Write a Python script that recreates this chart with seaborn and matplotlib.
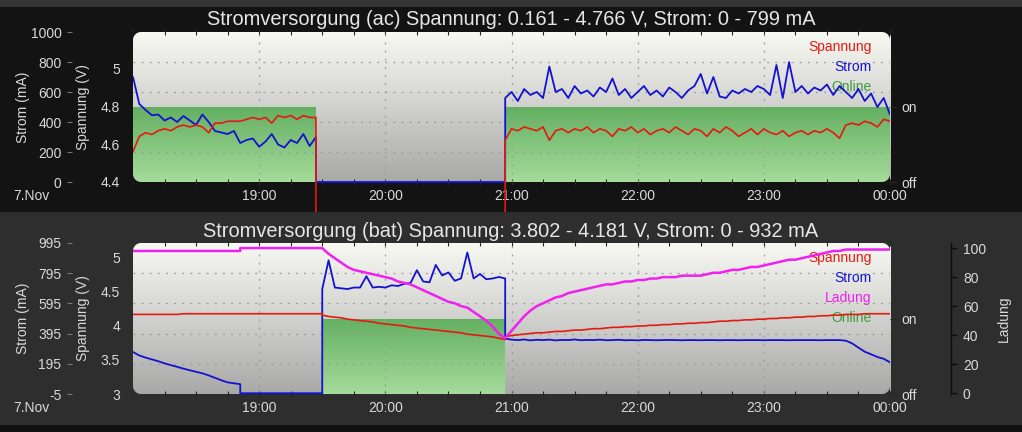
"""Stromversorgung: two stacked panels (ac / bat) with voltage, current, charge and online state."""
import numpy as np
import matplotlib
matplotlib.use("Agg")
import matplotlib.pyplot as plt
import seaborn as sns
from matplotlib.path import Path
from matplotlib.patches import PathPatch, Rectangle
from matplotlib.transforms import Bbox, TransformedBbox
from matplotlib.ticker import MultipleLocator

# ---------------------------------------------------------------- data
# time axis: minutes after 18:00 (7.Nov), 360 = 00:00
ac_min = np.r_[np.arange(0, 88, 3), 87, 177, np.arange(177, 361, 3)]
ac_spannung = [
    4.56, 4.64, 4.66, 4.65, 4.67, 4.68, 4.67, 4.69, 4.70, 4.69,
    4.70, 4.69, 4.66, 4.71, 4.71, 4.72, 4.72, 4.72, 4.73, 4.74,
    4.73, 4.74, 4.71, 4.75, 4.74, 4.75, 4.73, 4.75, 4.74, 4.74,
    0.161, 0.161,
    4.62, 4.68, 4.67, 4.69, 4.68, 4.67, 4.69, 4.62, 4.67, 4.68,
    4.66, 4.68, 4.67, 4.69, 4.66, 4.68, 4.67, 4.64, 4.68, 4.67,
    4.69, 4.66, 4.68, 4.65, 4.67, 4.68, 4.66, 4.69, 4.67, 4.65,
    4.68, 4.67, 4.64, 4.68, 4.66, 4.69, 4.67, 4.64, 4.66, 4.68,
    4.65, 4.68, 4.66, 4.65, 4.67, 4.64, 4.66, 4.67, 4.65, 4.67,
    4.66, 4.68, 4.66, 4.63, 4.70, 4.71, 4.70, 4.72, 4.71, 4.69,
    4.73, 4.72,
]
ac_strom = [
    700, 520, 480, 445, 450, 410, 430, 400, 440, 410,
    380, 450, 400, 340, 330, 320, 340, 260, 280, 290,
    235, 270, 320, 250, 230, 280, 260, 320, 240, 300,
    0, 0,
    560, 600, 540, 620, 580, 600, 560, 770, 600, 620,
    560, 640, 590, 610, 570, 630, 600, 690, 580, 620,
    560, 600, 640, 580, 610, 570, 630, 600, 560, 610,
    640, 720, 590, 700, 570, 560, 610, 590, 620, 600,
    640, 620, 580, 780, 560, 799, 600, 640, 590, 630,
    610, 650, 580, 640, 600, 560, 620, 540, 590, 500,
    560, 450,
]
ac_online_min = [0, 87, 87, 177, 177, 360]
ac_online = [1, 1, 0, 0, 1, 1]

bat_min = np.r_[np.arange(0, 52, 3), 51, 90, np.arange(90, 178, 3), np.arange(177, 361, 3)]
bat_spannung = [
    4.17, 4.17, 4.17, 4.17, 4.17, 4.17, 4.17, 4.17, 4.18, 4.18,
    4.18, 4.18, 4.18, 4.18, 4.18, 4.18, 4.18, 4.18,
    4.18, 4.18,
    4.16, 4.14, 4.13, 4.12, 4.10, 4.09, 4.08, 4.07, 4.06, 4.04,
    4.03, 4.02, 4.01, 4.00, 3.98, 3.97, 3.96, 3.95, 3.94, 3.93,
    3.92, 3.91, 3.90, 3.88, 3.87, 3.86, 3.85, 3.84, 3.82, 3.80,
    3.84, 3.86, 3.87, 3.88, 3.89, 3.90, 3.90, 3.91, 3.92, 3.92,
    3.93, 3.94, 3.94, 3.95, 3.96, 3.96, 3.97, 3.98, 3.98, 3.99,
    3.99, 4.00, 4.00, 4.01, 4.01, 4.02, 4.02, 4.03, 4.03, 4.04,
    4.04, 4.05, 4.05, 4.06, 4.07, 4.07, 4.08, 4.08, 4.09, 4.09,
    4.10, 4.10, 4.11, 4.11, 4.12, 4.12, 4.13, 4.13, 4.14, 4.14,
    4.15, 4.15, 4.16, 4.16, 4.17, 4.17, 4.17, 4.18, 4.18, 4.18,
    4.18, 4.18,
]
bat_strom = [
    273, 250, 236, 224, 212, 198, 186, 175, 163, 152,
    142, 132, 118, 102, 86, 72, 66, 60,
    0, 0,
    690, 880, 700, 695, 690, 700, 700, 775, 700, 705,
    700, 715, 710, 725, 730, 815, 740, 735, 850, 780,
    800, 745, 760, 932, 760, 790, 755, 760, 770, 760,
    362, 355, 352, 356, 350, 354, 352, 355, 350, 353,
    352, 356, 351, 353, 352, 355, 351, 352, 354, 351,
    352, 350, 353, 352, 351, 352, 353, 352, 351, 352,
    352, 351, 352, 352, 351, 352, 352, 351, 352, 352,
    352, 351, 352, 352, 352, 351, 352, 352, 352, 352,
    351, 352, 352, 352, 348, 330, 302, 275, 258, 240,
    228, 205,
]
bat_ladung = [
    98, 98, 98, 98, 98, 98, 98, 98, 98, 98,
    98, 98, 98, 98, 98, 98, 98, 98,
    100, 100,
    100, 96, 93, 90, 87, 85, 84, 83, 82, 81,
    80, 79, 77, 76, 75, 73, 71, 69, 67, 65,
    63, 62, 60, 59, 56, 53, 50, 46, 41, 38,
    38, 43, 48, 53, 57, 60, 62, 64, 66, 67,
    69, 70, 71, 72, 73, 74, 75, 75, 76, 77,
    77, 78, 78, 79, 79, 80, 80, 80, 81, 81,
    81, 81, 82, 83, 83, 84, 85, 85, 86, 87,
    87, 88, 89, 90, 91, 92, 92, 93, 94, 95,
    96, 97, 98, 98, 99, 99, 99, 99, 99, 99,
    99, 99,
]
bat_online_min = [0, 90, 90, 177, 177, 360]
bat_online = [0, 0, 1, 1, 0, 0]

hour_ticks = [60, 120, 180, 240, 300, 360]
hour_labels = ["19:00", "20:00", "21:00", "22:00", "23:00", "00:00"]

assert len(ac_min) == len(ac_spannung) == len(ac_strom)
assert len(bat_min) == len(bat_spannung) == len(bat_strom) == len(bat_ladung)

# ---------------------------------------------------------------- style
W, H = 1022, 432
TXT = "#d9d9d9"
TICK = "#262626"
GRID = "#9a9a9a"
C_U, C_I, C_Q, C_ON = "#e41a10", "#1212d0", "#f020f0", "#3c9c3c"

sns.set_theme(style="white")
plt.rcParams["font.family"] = ["Liberation Sans", "DejaVu Sans"]
plt.rcParams["font.size"] = 10
plt.rcParams["axes.unicode_minus"] = False

fig = plt.figure(figsize=(W / 100, H / 100), dpi=100)
fig.patch.set_facecolor("#2e2e2e")


def fig_rect(y0, y1, color):
    fig.add_artist(Rectangle((0, 1 - y1 / H), 1, (y1 - y0) / H, transform=fig.transFigure,
                             facecolor=color, edgecolor="none", zorder=-10))


fig_rect(0, 7, "#353535")
fig_rect(7, 212, "#131313")
fig_rect(425, 432, "#101010")


def px_clip(line, x0, y0, x1, y1):
    bb = Bbox.from_extents(x0 / W, 1 - y1 / H, x1 / W, 1 - y0 / H)
    line.set_clip_path(None)
    line.set_clip_box(TransformedBbox(bb, fig.transFigure))


def corner_mask(x0, y0, x1, y1, r, color):
    X0, X1, Y0, Y1 = x0, x1, H - y1, H - y0
    outer = [(X0, Y0), (X0, Y1), (X1, Y1), (X1, Y0), (X0, Y0)]
    inner = []
    for cx, cy, a0 in [(X1 - r, Y0 + r, -90), (X1 - r, Y1 - r, 0),
                       (X0 + r, Y1 - r, 90), (X0 + r, Y0 + r, 180)]:
        for a in np.radians(np.linspace(a0, a0 + 90, 12)):
            inner.append((cx + r * np.cos(a), cy + r * np.sin(a)))
    inner.append(inner[0])
    verts = np.array(outer + inner, dtype=float) / [W, H]
    codes = ([Path.MOVETO] + [Path.LINETO] * 3 + [Path.CLOSEPOLY]
             + [Path.MOVETO] + [Path.LINETO] * (len(inner) - 2) + [Path.CLOSEPOLY])
    fig.add_artist(PathPatch(Path(verts, codes), transform=fig.transFigure,
                             facecolor=color, edgecolor="none", zorder=5))


def panel(y0, y1, bg, title, base_y, mins, spannung, strom, on_min, online,
          u_lim, u_ticks, i_lim, i_ticks, ladung=None, u_clip=False):
    x0, x1 = 133, 890
    aw = x1 - x0
    ax_on = fig.add_axes([x0 / W, 1 - y1 / H, aw / W, (y1 - y0) / H])
    ax_on.patch.set_visible(False)
    for s in ax_on.spines.values():
        s.set_visible(False)

    # background gradient of the plot area
    t = np.linspace(0, 1, 256)[:, None, None]
    top_c, bot_c = np.array([0.975, 0.975, 0.955]), np.array([0.66, 0.66, 0.66])
    ax_on.imshow(top_c + (bot_c - top_c) * t, extent=(0, 360, 0, 2), aspect="auto",
                 zorder=0.1, interpolation="bilinear")

    # online area, green gradient clipped to the fill polygon
    poly = ax_on.fill_between(on_min, 0, online, facecolor="none", edgecolor="none")
    g_top, g_bot = np.array([0.39, 0.69, 0.38]), np.array([0.65, 0.86, 0.61])
    gim = ax_on.imshow(g_top + (g_bot - g_top) * t, extent=(0, 360, 0, 1), aspect="auto",
                       zorder=0.3, interpolation="bilinear")
    gim.set_clip_path(poly.get_paths()[0], ax_on.transData)

    ax_on.set_xlim(0, 360)
    ax_on.set_ylim(0, 2)
    ax_on.set_axisbelow(True)
    ax_on.set_xticks(hour_ticks, hour_labels)
    ax_on.xaxis.set_minor_locator(MultipleLocator(15))
    ax_on.tick_params(axis="x", which="both", direction="inout", length=5, width=0.8,
                      color=TICK, top=True, bottom=True, labelcolor=TXT, labelsize=10, pad=2.5)
    for v in hour_ticks[:-1]:
        ax_on.axvline(v, color=GRID, lw=0.9, ls=(0, (1.5, 5)), zorder=0.6)

    # Strom axis (outer left)
    ax_i = ax_on.twinx()
    ax_i.yaxis.tick_left()
    ax_i.yaxis.set_label_position("left")
    for s in ax_i.spines.values():
        s.set_visible(False)
    ax_i.spines["left"].set_position(("outward", 61 * 0.72))
    ax_i.set_ylim(*i_lim)
    ax_i.set_yticks(i_ticks, [str(v) for v in i_ticks])
    ax_i.tick_params(axis="y", direction="out", length=3.6, width=0.8, color="#777777",
                     labelcolor=TXT, labelsize=10, pad=4)
    for v in i_ticks[1:-1]:
        ax_i.axhline(v, color=GRID, lw=0.9, ls=(0, (1.5, 5)), zorder=0.5)
    ax_i.set_ylabel("Strom (mA)", color=TXT, fontsize=10)
    ax_i.yaxis.set_label_coords((30 - x0) / aw, 0.5)

    # Spannung axis (inner left)
    ax_u = ax_on.twinx()
    ax_u.yaxis.tick_left()
    ax_u.yaxis.set_label_position("left")
    for s in ax_u.spines.values():
        s.set_visible(False)
    ax_u.set_ylim(*u_lim)
    ax_u.set_yticks(u_ticks, [f"{v:g}" for v in u_ticks])
    ax_u.tick_params(axis="y", length=0, labelcolor=TXT, labelsize=10, pad=9.4)
    ax_u.set_ylabel("Spannung (V)", color=TXT, fontsize=10)
    ax_u.yaxis.set_label_coords((90 - x0) / aw, 0.5)

    sns.lineplot(x=mins, y=strom, ax=ax_i, color=C_I, lw=1.3, estimator=None, sort=False)
    px_clip(ax_i.lines[-1], x0, y0 - 10, x1, y1 + 4)
    sns.lineplot(x=mins, y=spannung, ax=ax_u, color=C_U, lw=1.2, estimator=None, sort=False)
    if u_clip:
        px_clip(ax_u.lines[-1], x0, y0 - 10, x1, 212)

    legend = [("Spannung", C_U), ("Strom", C_I)]
    if ladung is not None:
        ax_q = ax_on.twinx()
        for s in ax_q.spines.values():
            s.set_visible(False)
        ax_q.spines["right"].set_visible(True)
        ax_q.spines["right"].set_position(("outward", 61 * 0.72))
        ax_q.spines["right"].set_color("#0c0c0c")
        ax_q.spines["right"].set_linewidth(1)
        ax_q.set_ylim(-0.5, 103.5)
        ax_q.set_yticks([0, 20, 40, 60, 80, 100])
        ax_q.tick_params(axis="y", direction="out", length=4.3, width=1, color="#0c0c0c",
                         labelcolor=TXT, labelsize=10, pad=4.3)
        ax_q.set_ylabel("Ladung", color=TXT, fontsize=10)
        ax_q.yaxis.set_label_coords((997 - x0) / aw, 0.5)
        sns.lineplot(x=mins, y=ladung, ax=ax_q, color=C_Q, lw=1.8, estimator=None, sort=False)
        legend.append(("Ladung", C_Q))
    legend.append(("Online", C_ON))

    # twinx moved the online ticks to the left, put them back on the right
    ax_on.yaxis.tick_right()
    ax_on.set_yticks([0, 1], ["off", "on"])
    ax_on.tick_params(axis="y", direction="out", length=5, width=0.8, color=TICK,
                      labelcolor=TXT, labelsize=10, pad=3)

    for k, (name, col) in enumerate(legend):
        ax_on.text(0.976, 0.9 - k * 20 / (y1 - y0), name, color=col, fontsize=10,
                   ha="right", va="center", transform=ax_on.transAxes, zorder=3)

    for a in fig.axes[-4:]:
        a.set_xlim(0, 360)
        a.set_xlabel("")

    corner_mask(x0, y0, x1, y1, 8, bg)
    fig.text(0.5, 1 - base_y / H, title, ha="center", va="baseline", fontsize=14.4, color="#e6e6e6")
    fig.text(13 / W, 1 - (y1 + 7) / H, "7.Nov", ha="left", va="top", fontsize=10, color=TXT)


panel(32, 182, "#131313",
      "Stromversorgung (ac) Spannung: 0.161 - 4.766 V, Strom: 0 - 799 mA", 25,
      ac_min, ac_spannung, ac_strom, ac_online_min, ac_online,
      (4.4, 5.19), [4.4, 4.6, 4.8, 5.0], (0, 1000), [0, 200, 400, 600, 800, 1000],
      u_clip=True)

panel(243, 394, "#2e2e2e",
      "Stromversorgung (bat) Spannung: 3.802 - 4.181 V, Strom: 0 - 932 mA", 237,
      bat_min, bat_spannung, bat_strom, bat_online_min, bat_online,
      (3.0, 5.22), [3.0, 3.5, 4.0, 4.5, 5.0], (-5, 995), [-5, 195, 395, 595, 795, 995],
      ladung=bat_ladung)

fig.savefig("out.png", dpi=100, facecolor=fig.get_facecolor())
